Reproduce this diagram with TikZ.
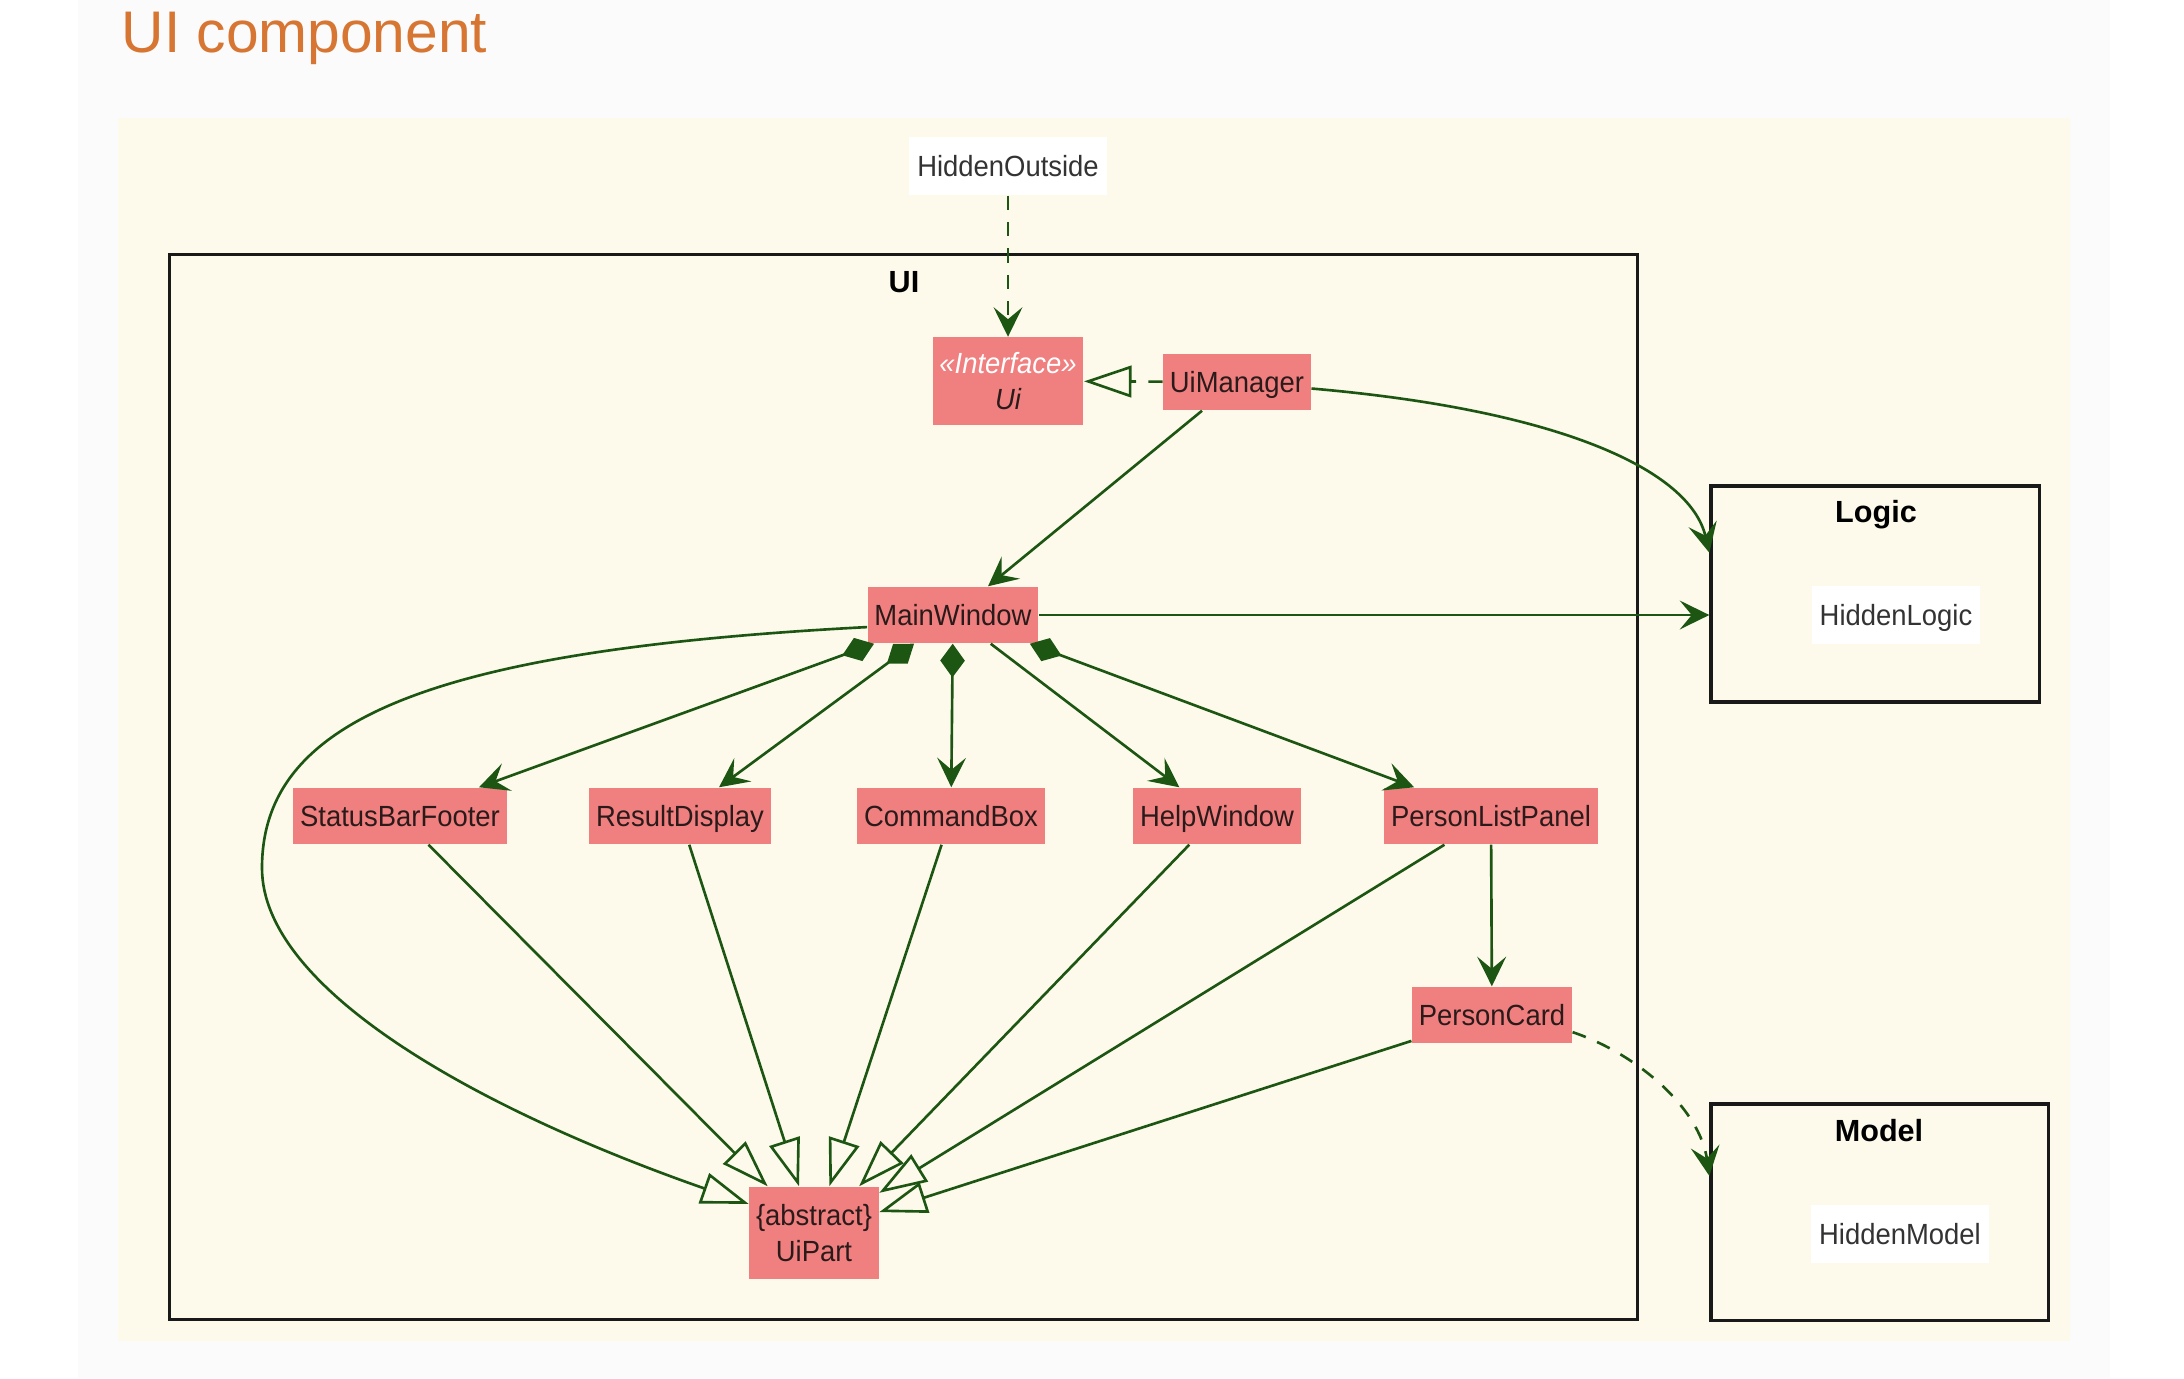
\documentclass[tikz,border=0pt]{standalone}
\usepackage{fontspec}
\setmainfont{Liberation Sans}
\newfontfamily\umlfont[FakeStretch=0.94]{Liberation Sans}
\usetikzlibrary{arrows.meta}

\definecolor{bgbeige}{HTML}{FDFAEB}
\definecolor{pagegray}{HTML}{FBFBFB}
\definecolor{classpink}{HTML}{F08080}
\definecolor{umlgreen}{HTML}{1D5613}
\definecolor{titleorange}{HTML}{D77532}
\definecolor{textdark}{HTML}{2B1A1A}

\begin{document}
\begin{tikzpicture}
  [x=0.01cm,y=-0.01cm,
   clsbox/.style={rectangle,fill=classpink,text=textdark,font=\umlfont\fontsize{8.3}{10}\selectfont,
     inner xsep=1.9pt,inner ysep=0pt,minimum height=0.56cm,align=center},
   cls/.style={clsbox,text height=6.9pt,text depth=0.9pt},
   hidden/.style={rectangle,fill=white,text=black!80,font=\umlfont\fontsize{8.3}{10}\selectfont,
     inner xsep=2.3pt,inner ysep=0pt,minimum height=0.58cm,text height=6.9pt,text depth=0.9pt},
   pkg/.style={rectangle,draw=black!90,line width=0.9pt,inner sep=0pt},
   pkglabel/.style={font=\bfseries\fontsize{8.7}{10}\selectfont,anchor=base,inner sep=0pt},
   link/.style={draw=umlgreen,line width=0.75pt},
   dep/.style={dash pattern=on 4pt off 3.5pt},
   head/.style={arrows={-Stealth[length=8.4pt,width=8.2pt,inset=3.4pt]}},
   comp/.style={arrows={Diamond[length=9.6pt,width=7pt]-Stealth[length=8.4pt,width=8.2pt,inset=3.4pt]}},
   gen/.style={arrows={-Triangle[open,length=13.5pt,width=9pt]}}]

  \useasboundingbox (0,0) rectangle (2184,1378);
  \fill[white] (0,0) rectangle (2184,1378);
  \fill[pagegray] (78,0) rectangle (2110,1378);
  \fill[bgbeige] (118,118) rectangle (2070,1341);

  \node[anchor=base west,inner sep=0pt,text=titleorange,font=\fontsize{16.7}{20}\selectfont]
    (title) at (121,52) {UI component};

  % packages
  \node[pkg,minimum width=14.67cm,minimum height=10.64cm] (ui) at (903.5,787) {};
  \node[pkglabel] (uilbl) at (904,292) {UI};
  \node[pkg,minimum width=3.28cm,minimum height=2.16cm] (logic) at (1875,594) {};
  \node[pkglabel] (logiclbl) at (1876,522) {Logic};
  \node[pkg,minimum width=3.37cm,minimum height=2.16cm] (model) at (1879.5,1212) {};
  \node[pkglabel] (modellbl) at (1879,1141) {Model};

  \node[hidden] (hout) at (1008,166) {HiddenOutside};
  \node[hidden] (hlogic) at (1896,615) {HiddenLogic};
  \node[hidden] (hmodel) at (1900,1234) {HiddenModel};

  % classes
  \node[clsbox,minimum height=0.87cm] (uiif) at (1008,381) {\textcolor{white}{\itshape «Interface»}\\\itshape Ui};
  \node[cls] (uim) at (1237,382) {UiManager};
  \node[cls] (mw) at (953,615) {MainWindow};
  \node[cls] (sbf) at (400,816) {StatusBarFooter};
  \node[cls] (rd) at (680,816) {ResultDisplay};
  \node[cls] (cb) at (951,816) {CommandBox};
  \node[cls] (hw) at (1217,816) {HelpWindow};
  \node[cls] (plp) at (1491,816) {PersonListPanel};
  \node[cls] (pc) at (1492,1015) {PersonCard};
  \node[clsbox,minimum height=0.92cm] (uip) at (814,1233) {\{abstract\}\\UiPart};

  \draw[link,dep,head] (hout) -- (uiif);
  \draw[link,dep,gen] (uim) -- (uiif);
  \draw[link,head] (uim) -- (mw);
  \draw[link,head] (uim.-5) .. controls (1560,410) and (1690,470) .. (logic.166);
  \draw[link,head] (mw.east) -- (mw.east -| logic.west);

  \foreach \to in {sbf,rd,cb,plp}
    \draw[link,comp] (mw) -- (\to);
  \draw[link,head] (mw) -- (hw);
  \draw[link,head] (plp) -- (pc);

  \foreach \from in {sbf,rd,cb,hw,plp,pc}
    \draw[link,gen] (\from) -- (uip);
  \draw[link,gen] (mw.-172) .. controls (430,650) and (262,720) .. (262,868)
    .. controls (262,990) and (480,1110) .. (uip.156);

  \draw[link,dep,head] (pc.-12) .. controls (1640,1055) and (1700,1110) .. (model.168);

\end{tikzpicture}
\end{document}
